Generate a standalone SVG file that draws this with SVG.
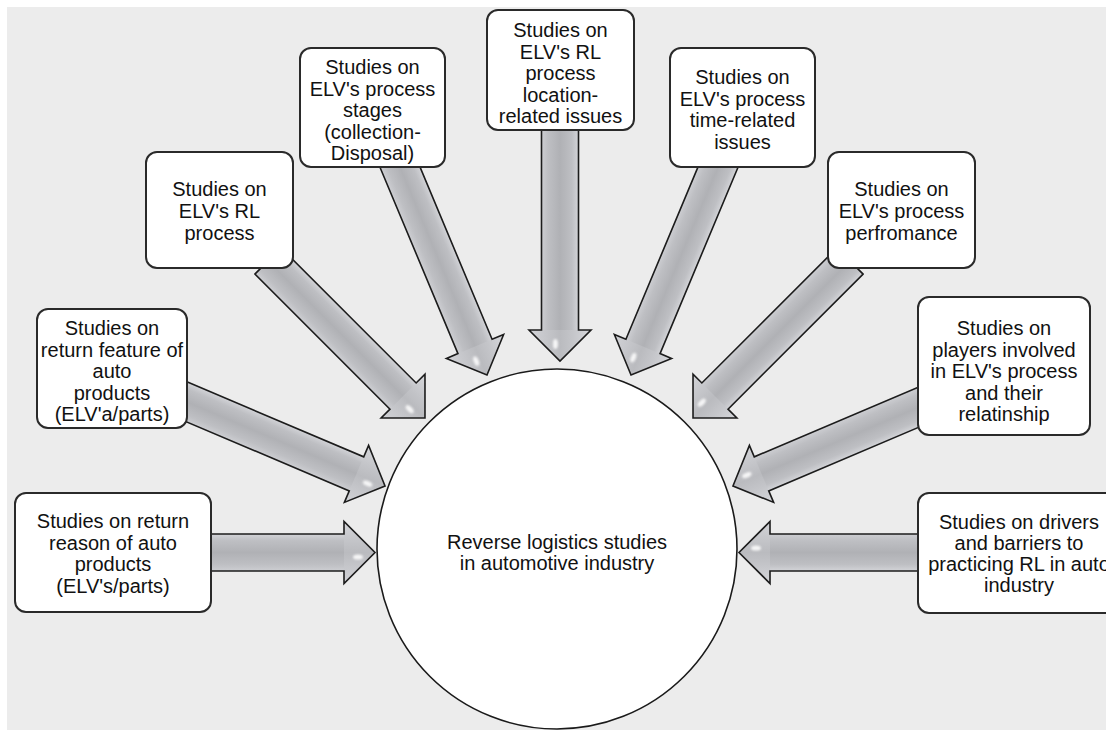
<svg xmlns="http://www.w3.org/2000/svg" width="1106" height="731" viewBox="0 0 1106 731">
  <defs>
    <style>
      .box { fill: #ffffff; stroke: #2a2a2a; stroke-width: 2; }
      .lbl { font-family: "Liberation Sans", Arial, sans-serif; font-size: 20px; fill: #111111; text-anchor: middle; }
      .outline { fill: none; stroke: #1c1c1c; stroke-width: 1.6; stroke-linejoin: miter; }
      .shaft { fill: url(#shaftGrad); }
      .head { fill: url(#headGrad); }
      .gloss { fill: #ffffff; opacity: 0.85; filter: url(#soft); }
    </style>
    <!-- gradients are in each arrow's local frame: x along the arrow, y across it -->
    <linearGradient id="shaftGrad" gradientUnits="userSpaceOnUse" x1="0" y1="-18.5" x2="0" y2="18.5">
      <stop offset="0" stop-color="#d3d4d8"/>
      <stop offset="0.18" stop-color="#bebfc3"/>
      <stop offset="0.5" stop-color="#b0b1b5"/>
      <stop offset="0.82" stop-color="#bebfc3"/>
      <stop offset="1" stop-color="#cdced2"/>
    </linearGradient>
    <linearGradient id="headGrad" gradientUnits="userSpaceOnUse" x1="0" y1="-31" x2="0" y2="31">
      <stop offset="0" stop-color="#d6d7db"/>
      <stop offset="0.3" stop-color="#c4c5c9"/>
      <stop offset="0.5" stop-color="#babbbf"/>
      <stop offset="0.7" stop-color="#c4c5c9"/>
      <stop offset="1" stop-color="#d2d3d7"/>
    </linearGradient>
    <filter id="soft" x="-50%" y="-50%" width="200%" height="200%">
      <feGaussianBlur stdDeviation="0.8"/>
    </filter>
  </defs>

  <!-- page background -->
  <rect x="0" y="0" width="1106" height="731" fill="#ffffff"/>
  <rect x="7" y="7" width="1099" height="723" fill="#ececec"/>

  <!-- block arrows pointing into the hub -->
  <g id="connectors">
    <!-- left, horizontal -->
    <g transform="translate(205,552.5) rotate(0)">
      <path class="shaft" d="M0,-18.5 H139 V-31 L170,0 L139,31 V18.5 H0 Z"/>
      <path class="head" d="M139,-31 L170,0 L139,31 Z"/>
      <ellipse class="gloss" cx="153" cy="4.5" rx="5" ry="2.6"/>
      <path class="outline" d="M0,-18.5 H139 V-31 L170,0 L139,31 V18.5 H0 Z"/>
    </g>
    <g transform="translate(177.9,398.1) rotate(22.99)">
      <path class="shaft" d="M0,-18.5 H194 V-31 L225,0 L194,31 V18.5 H0 Z"/>
      <path class="head" d="M194,-31 L225,0 L194,31 Z"/>
      <ellipse class="gloss" cx="208" cy="4.5" rx="5" ry="2.6"/>
      <path class="outline" d="M0,-18.5 H194 V-31 L225,0 L194,31 V18.5 H0 Z"/>
    </g>
    <g transform="translate(268,261) rotate(45)">
      <path class="shaft" d="M0,-18.5 H191 V-31 L222,0 L191,31 V18.5 H0 Z"/>
      <path class="head" d="M191,-31 L222,0 L191,31 Z"/>
      <ellipse class="gloss" cx="205" cy="4.5" rx="5" ry="2.6"/>
      <path class="outline" d="M0,-18.5 H191 V-31 L222,0 L191,31 V18.5 H0 Z"/>
    </g>
    <g transform="translate(396.1,157.8) rotate(67.3)">
      <path class="shaft" d="M0,-18.5 H204.5 V-31 L235.5,0 L204.5,31 V18.5 H0 Z"/>
      <path class="head" d="M204.5,-31 L235.5,0 L204.5,31 Z"/>
      <ellipse class="gloss" cx="218.5" cy="4.5" rx="5" ry="2.6"/>
      <path class="outline" d="M0,-18.5 H204.5 V-31 L235.5,0 L204.5,31 V18.5 H0 Z"/>
    </g>
    <!-- top, vertical -->
    <g transform="translate(560,120) rotate(90)">
      <path class="shaft" d="M0,-18.5 H210 V-31 L241,0 L210,31 V18.5 H0 Z"/>
      <path class="head" d="M210,-31 L241,0 L210,31 Z"/>
      <ellipse class="gloss" cx="224" cy="4.5" rx="5" ry="2.6"/>
      <path class="outline" d="M0,-18.5 H210 V-31 L241,0 L210,31 V18.5 H0 Z"/>
    </g>
    <g transform="translate(721.9,157.8) rotate(112.7)">
      <path class="shaft" d="M0,-18.5 H204.5 V-31 L235.5,0 L204.5,31 V18.5 H0 Z"/>
      <path class="head" d="M204.5,-31 L235.5,0 L204.5,31 Z"/>
      <ellipse class="gloss" cx="218.5" cy="4.5" rx="5" ry="2.6"/>
      <path class="outline" d="M0,-18.5 H204.5 V-31 L235.5,0 L204.5,31 V18.5 H0 Z"/>
    </g>
    <g transform="translate(850,261) rotate(135)">
      <path class="shaft" d="M0,-18.5 H191 V-31 L222,0 L191,31 V18.5 H0 Z"/>
      <path class="head" d="M191,-31 L222,0 L191,31 Z"/>
      <ellipse class="gloss" cx="205" cy="4.5" rx="5" ry="2.6"/>
      <path class="outline" d="M0,-18.5 H191 V-31 L222,0 L191,31 V18.5 H0 Z"/>
    </g>
    <g transform="translate(940.1,398.1) rotate(157.01)">
      <path class="shaft" d="M0,-18.5 H194 V-31 L225,0 L194,31 V18.5 H0 Z"/>
      <path class="head" d="M194,-31 L225,0 L194,31 Z"/>
      <ellipse class="gloss" cx="208" cy="4.5" rx="5" ry="2.6"/>
      <path class="outline" d="M0,-18.5 H194 V-31 L225,0 L194,31 V18.5 H0 Z"/>
    </g>
    <!-- right, horizontal -->
    <g transform="translate(925,552.5) rotate(180)">
      <path class="shaft" d="M0,-18.5 H155 V-31 L186,0 L155,31 V18.5 H0 Z"/>
      <path class="head" d="M155,-31 L186,0 L155,31 Z"/>
      <ellipse class="gloss" cx="169" cy="4.5" rx="5" ry="2.6"/>
      <path class="outline" d="M0,-18.5 H155 V-31 L186,0 L155,31 V18.5 H0 Z"/>
    </g>
  </g>

  <!-- hub -->
  <g id="hub">
    <circle cx="557" cy="549" r="180" fill="#ffffff" stroke="#1a1a1a" stroke-width="1.6"/>
    <text class="lbl" x="557" y="549">Reverse logistics studies</text>
    <text class="lbl" x="557" y="570">in automotive industry</text>
  </g>

  <!-- study boxes -->
  <g id="return-reason">
    <rect class="box" x="15" y="493" width="196" height="119" rx="11"/>
    <text class="lbl" x="113" y="528">Studies on return</text>
    <text class="lbl" x="113" y="549.5">reason of auto</text>
    <text class="lbl" x="113" y="571">products</text>
    <text class="lbl" x="113" y="592.5">(ELV's/parts)</text>
  </g>

  <g id="return-feature">
    <rect class="box" x="37" y="309" width="150" height="119" rx="11"/>
    <text class="lbl" x="112" y="335">Studies on</text>
    <text class="lbl" x="112" y="356.5">return feature of</text>
    <text class="lbl" x="112" y="378">auto</text>
    <text class="lbl" x="112" y="399.5">products</text>
    <text class="lbl" x="112" y="421">(ELV'a/parts)</text>
  </g>

  <g id="rl-process">
    <rect class="box" x="146" y="152" width="147" height="116" rx="11"/>
    <text class="lbl" x="219.5" y="196">Studies on</text>
    <text class="lbl" x="219.5" y="218">ELV's RL</text>
    <text class="lbl" x="219.5" y="240">process</text>
  </g>

  <g id="process-stages">
    <rect class="box" x="300" y="48" width="145" height="119" rx="11"/>
    <text class="lbl" x="372.5" y="74">Studies on</text>
    <text class="lbl" x="372.5" y="95.5">ELV's process</text>
    <text class="lbl" x="372.5" y="117">stages</text>
    <text class="lbl" x="372.5" y="138.5">(collection-</text>
    <text class="lbl" x="372.5" y="160">Disposal)</text>
  </g>

  <g id="location-issues">
    <rect class="box" x="487" y="10" width="147" height="120" rx="11"/>
    <text class="lbl" x="560.5" y="37">Studies on</text>
    <text class="lbl" x="560.5" y="58.5">ELV's RL</text>
    <text class="lbl" x="560.5" y="80">process</text>
    <text class="lbl" x="560.5" y="101.5">location-</text>
    <text class="lbl" x="560.5" y="123">related issues</text>
  </g>

  <g id="time-issues">
    <rect class="box" x="670" y="48" width="145" height="119" rx="11"/>
    <text class="lbl" x="742.5" y="84">Studies on</text>
    <text class="lbl" x="742.5" y="105.5">ELV's process</text>
    <text class="lbl" x="742.5" y="127">time-related</text>
    <text class="lbl" x="742.5" y="148.5">issues</text>
  </g>

  <g id="performance">
    <rect class="box" x="828" y="152" width="147" height="116" rx="11"/>
    <text class="lbl" x="901.5" y="196">Studies on</text>
    <text class="lbl" x="901.5" y="218">ELV's process</text>
    <text class="lbl" x="901.5" y="240">perfromance</text>
  </g>

  <g id="players">
    <rect class="box" x="918" y="297" width="172" height="138" rx="11"/>
    <text class="lbl" x="1004" y="335">Studies on</text>
    <text class="lbl" x="1004" y="356.5">players involved</text>
    <text class="lbl" x="1004" y="378">in ELV's process</text>
    <text class="lbl" x="1004" y="399.5">and their</text>
    <text class="lbl" x="1004" y="421">relatinship</text>
  </g>

  <g id="drivers-barriers">
    <rect class="box" x="918" y="493" width="202" height="120" rx="11"/>
    <text class="lbl" x="1019" y="529">Studies on drivers</text>
    <text class="lbl" x="1019" y="550">and barriers to</text>
    <text class="lbl" x="1019" y="571">practicing RL in auto</text>
    <text class="lbl" x="1019" y="592">industry</text>
  </g>
</svg>
